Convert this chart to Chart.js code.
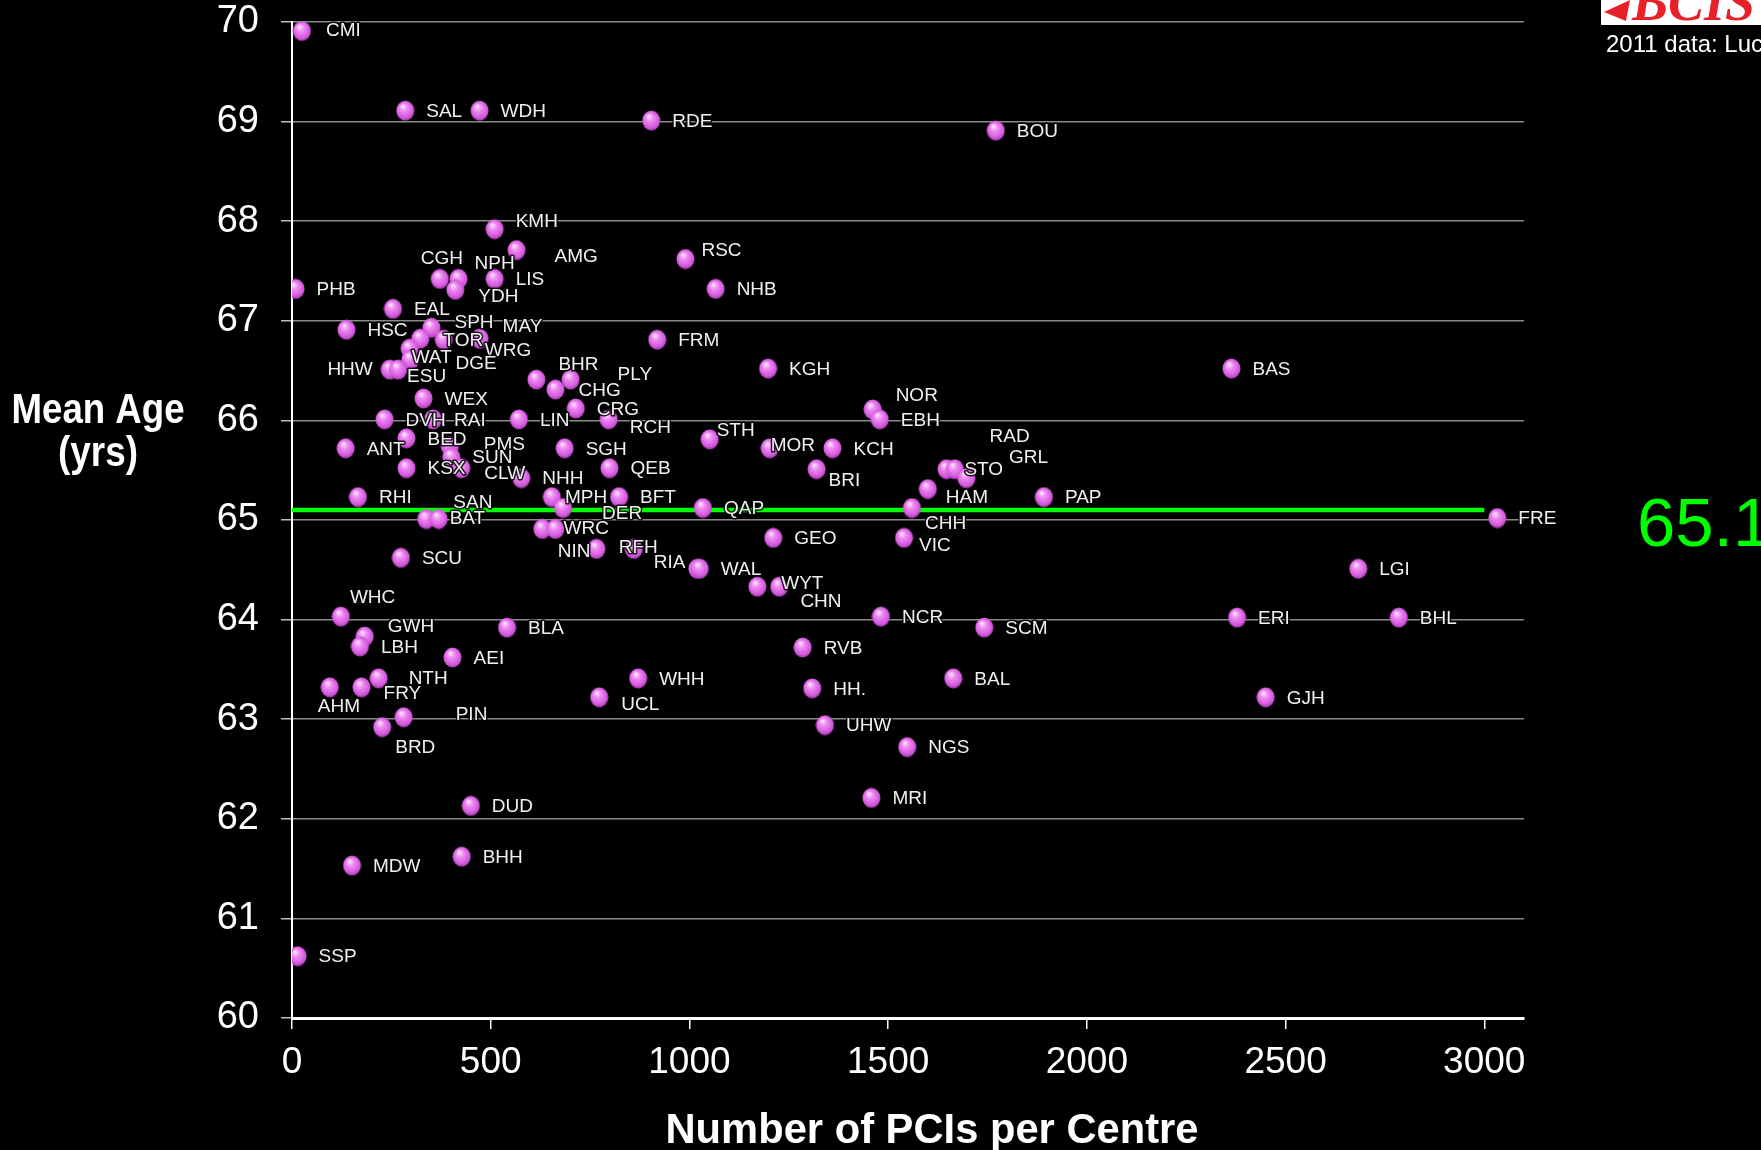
<!DOCTYPE html>
<html>
<head>
<meta charset="utf-8">
<script src="https://cdn.jsdelivr.net/npm/chart.js@4.4.1/dist/chart.umd.min.js"></script>
<style>
  html, body { margin: 0; padding: 0; background: #000; }
  #wrap { width: 1761px; height: 1150px; }
</style>
</head>
<body>
<div id="wrap"><canvas id="myChart" width="1761" height="1150"></canvas></div>
<script>
// ** Data: centre code, PCIs per centre, mean age (yrs)
const centres = ['CMI','SAL','WDH','RDE','BOU','KMH','AMG','RSC','CGH','NPH','YDH','LIS','PHB','NHB','EAL','HSC','SPH','TOR','WRG','MAY','FRM','WAT','DGE','HHW','ESU','BHR','PLY','CHG','KGH','BAS','WEX','NOR','EBH','CRG','DVH','RAI','LIN','RCH','STH','BED','ANT','PMS','SUN','SGH','MOR','KCH','KSX','CLW','NHH','QEB','BRI','RAD','GRL','STO','HAM','RHI','MPH','BFT','PAP','DER','QAP','CHH','SAN','BAT','FRE','','WRC','GEO','VIC','NIN','RFH','SCU','RIA','WAL','LGI','CHN','WYT','WHC','NCR','ERI','BHL','BLA','SCM','GWH','LBH','RVB','AEI','NTH','WHH','BAL','AHM','FRY','HH.','UCL','GJH','PIN','UHW','BRD','NGS','DUD','MRI','BHH','MDW','SSP']
const pcis = [25,285,472,904,1771,510,565,990,372,419,411,510,9,1066,254,137,351,323,382,472,919,296,298,246,267,615,701,663,1198,2364,331,1461,1479,714,233,355,571,797,1051,288,135,397,401,686,1202,1360,288,426,577,799,1320,1647,1668,1697,1600,166,654,823,1892,682,1034,1560,338,369,3033,630,663,1211,1540,766,860,274,1020,1026,2683,1171,1226,123,1482,2378,2785,541,1742,183,171,1285,404,218,871,1664,95,175,1309,773,2450,281,1341,227,1548,450,1458,427,151,14]
const meanAges = [69.91,69.11,69.11,69.01,68.91,67.92,67.71,67.62,67.42,67.42,67.31,67.42,67.32,67.32,67.12,66.91,66.93,66.82,66.81,66.82,66.81,66.72,66.61,66.51,66.51,66.41,66.41,66.31,66.52,66.52,66.22,66.11,66.01,66.12,66.01,66.01,66.01,66.01,65.81,65.82,65.72,65.74,65.63,65.72,65.72,65.72,65.52,65.52,65.42,65.52,65.51,65.51,65.51,65.42,65.31,65.23,65.23,65.23,65.23,65.12,65.12,65.12,65.01,65.01,65.02,64.91,64.91,64.82,64.82,64.71,64.71,64.62,64.51,64.51,64.51,64.33,64.33,64.03,64.03,64.02,64.02,63.92,63.92,63.83,63.73,63.72,63.62,63.41,63.41,63.41,63.32,63.32,63.31,63.22,63.22,63.02,62.94,62.92,62.72,62.13,62.21,61.62,61.53,60.62]
const nationalMean = 65.1
const xTicks = [0, 500, 1000, 1500, 2000, 2500, 3000]
const yTicks = [60, 61, 62, 63, 64, 65, 66, 67, 68, 69, 70]

// label nudges in px (dx, dy, align) where the slide moved a label off the default spot
const labelNudge = {
  CMI: [24, 0], KMH: [21, -7], AMG: [38, 7], RSC: [16, -8], CGH: [-19, -20], NPH: [16, -15],
  YDH: [23, 7], SPH: [23, -5], MAY: [23, -12], TOR: [23, 2], WRG: [41, 11], WAT: [2, 9],
  DGE: [45, 4], HHW: [-17, 0, 'right'], ESU: [9, 7], BHR: [22, -15], PLY: [47, -5], CHG: [23, 1],
  RCH: [21, 8], STH: [7, -9], PMS: [34, -2], CLW: [23, 6], SAN: [27, -16], BAT: [11, 0],
  MPH: [13, 1], DER: [39, 6], WRC: [8, 0], NIN: [-6, 3, 'right'], RFH: [-15, -1], RIA: [-12, -6, 'right'],
  WHC: [9, -19], GWH: [23, -10], NTH: [30, 0], FRY: [22, 6], AHM: [-12, 19], UCL: [22, 7],
  PIN: [52, -2], BRD: [13, 21], NOR: [23, -14], MOR: [1, -3], BRI: [12, 12], RAD: [43, -32],
  GRL: [54, -11], STO: [-2, -8], HAM: [18, 9], CHH: [13, 16], VIC: [15, 8], WYT: [2, -3], CHN: [43, 15]
}

// shaded magenta ball like the slide's 3D markers
function makeBall() {
  const c = document.createElement('canvas')
  c.width = 19
  c.height = 21
  const g = c.getContext('2d')
  const grad = g.createRadialGradient(7, 6, 0.5, 9.5, 10.5, 11)
  grad.addColorStop(0, '#ffe8ff')
  grad.addColorStop(0.3, '#f08cf4')
  grad.addColorStop(0.75, '#d258dc')
  grad.addColorStop(1, '#8c2c94')
  g.fillStyle = grad
  g.beginPath()
  g.ellipse(9.5, 10.5, 9, 10, 0, 0, Math.PI * 2)
  g.fill()
  return c
}

function squishText(ctx, text, cx, baseline, font, width) {
  ctx.save()
  ctx.font = font
  const k = Math.min(1, width / ctx.measureText(text).width)
  ctx.translate(cx, baseline)
  ctx.scale(k, 1)
  ctx.textAlign = 'center'
  ctx.textBaseline = 'alphabetic'
  ctx.fillText(text, 0, 0)
  ctx.restore()
}

const slideText = {
  id: 'slideText',
  afterDatasetsDraw(chart) {
    const ctx = chart.ctx
    const pts = chart.getDatasetMeta(0).data
    ctx.save()
    ctx.font = '19px "Liberation Sans", Arial, sans-serif'
    ctx.textBaseline = 'middle'
    ctx.lineJoin = 'round'
    pts.forEach((p, i) => {
      const name = centres[i]
      if (!name) return
      const [dx, dy, align] = labelNudge[name] || [21, 1]
      ctx.textAlign = align || 'left'
      ctx.strokeStyle = 'rgba(0,0,0,0.85)'
      ctx.lineWidth = 3
      ctx.strokeText(name, p.x + dx, p.y + dy)
      ctx.fillStyle = '#f0f0f0'
      ctx.fillText(name, p.x + dx, p.y + dy)
    })
    ctx.restore()
  },
  afterDraw(chart) {
    const ctx = chart.ctx
    ctx.save()
    ctx.fillStyle = '#ffffff'
    squishText(ctx, 'Mean Age', 98, 423, 'bold 42px "Liberation Sans", Arial, sans-serif', 173)
    squishText(ctx, '(yrs)', 98, 466, 'bold 42px "Liberation Sans", Arial, sans-serif', 80)
    squishText(ctx, 'Number of PCIs per Centre', 932, 1143, 'bold 43px "Liberation Sans", Arial, sans-serif', 533)

    // mean value call-out
    const yMean = chart.scales.y.getPixelForValue(nationalMean)
    ctx.fillStyle = '#00ff00'
    ctx.font = '69px "Liberation Sans", Arial, sans-serif'
    ctx.textAlign = 'left'
    ctx.textBaseline = 'middle'
    ctx.fillText(String(nationalMean), 1637, yMean + 17)

    // logo corner + source note
    ctx.fillStyle = '#ffffff'
    ctx.fillRect(1601, 0, 160, 25)
    ctx.beginPath()
    ctx.rect(1601, 0, 160, 25)
    ctx.clip()
    ctx.fillStyle = '#e8202a'
    ctx.beginPath()
    ctx.moveTo(1604, 12)
    ctx.lineTo(1630, 0)
    ctx.lineTo(1626, 21)
    ctx.closePath()
    ctx.fill()
    ctx.font = 'italic bold 54px "Liberation Serif", serif'
    ctx.textBaseline = 'alphabetic'
    ctx.fillText('BCIS', 1632, 20)
    ctx.restore()

    ctx.save()
    ctx.fillStyle = '#ffffff'
    ctx.font = '24px "Liberation Sans", Arial, sans-serif'
    ctx.textBaseline = 'middle'
    ctx.fillText('2011 data: Lucy', 1606, 45)
    ctx.restore()
  }
}

const ctx = document.getElementById('myChart').getContext('2d')
const myChart = new Chart(ctx, {
  type: 'scatter',
  data: {
    datasets: [
      {
        data: pcis.map((x, i) => ({ x, y: meanAges[i] })),
        pointStyle: makeBall(),
        order: 1
      },
      {
        type: 'line',
        data: [{ x: 0, y: nationalMean }, { x: 3000, y: nationalMean }],
        borderColor: '#00ff00',
        borderWidth: 4.5,
        pointRadius: 0,
        order: 2
      }
    ]
  },
  options: {
    responsive: false,
    animation: false,
    devicePixelRatio: 1,
    layout: { padding: { top: 22, right: 237, left: 0, bottom: 0 } },
    plugins: { legend: { display: false }, tooltip: { enabled: false } },
    scales: {
      x: {
        type: 'linear',
        min: 0,
        max: 3100,
        afterBuildTicks: s => { s.ticks = xTicks.map(v => ({ value: v })) },
        afterFit: s => { s.height = 132; s.paddingLeft = 0; s.paddingRight = 0 },
        grid: { drawOnChartArea: false, drawTicks: true, tickLength: 11, tickColor: '#ffffff', lineWidth: 1.5 },
        border: { color: '#ffffff', width: 3 },
        ticks: { color: '#ffffff', padding: 12, font: { family: '"Liberation Sans", Arial', size: 37 }, callback: v => String(v) }
      },
      y: {
        min: 60,
        max: 70,
        afterBuildTicks: s => { s.ticks = yTicks.map(v => ({ value: v })) },
        afterFit: s => { s.width = 292; s.paddingTop = 0; s.paddingBottom = 0 },
        grid: { color: '#8a8a8a', lineWidth: 1.5, tickLength: 11, tickColor: '#bdbdbd' },
        border: { color: '#ffffff', width: 2 },
        ticks: { color: '#ffffff', padding: 22, font: { family: '"Liberation Sans", Arial', size: 38 }, callback: v => String(v) }
      }
    }
  },
  plugins: [slideText]
})
</script>
</body>
</html>
